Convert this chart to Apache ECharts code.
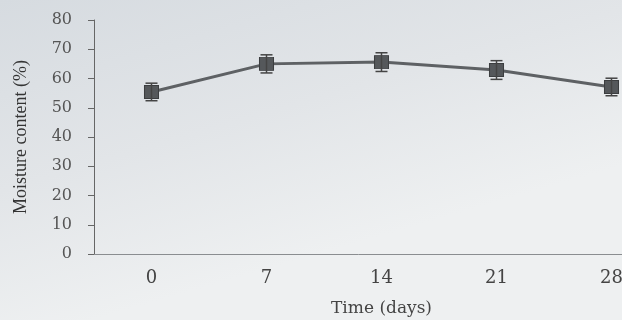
<!DOCTYPE html>
<html>
<head>
<meta charset="utf-8">
<script src="https://cdn.jsdelivr.net/npm/echarts@6/dist/echarts.min.js"></script>
<style>
html,body{margin:0;padding:0;}
#chart{width:622px;height:320px;}
</style>
</head>
<body>
<div id="chart"></div>
<script>
var categories = ['0', '7', '14', '21', '28'];
var moisture = [55.4, 65.0, 65.6, 62.9, 57.1];
var errors = [3.0, 3.1, 3.2, 3.2, 3.0];
var yTicks = [0, 10, 20, 30, 40, 50, 60, 70, 80];

var chart = echarts.init(document.getElementById('chart'));
var serifWide = '"DejaVu Serif", "Liberation Serif", serif';
var serif = '"Liberation Serif", "DejaVu Serif", serif';

var errData = moisture.map(function (v, i) { return [i, v - errors[i], v + errors[i]]; });

chart.setOption({
  animation: false,
  backgroundColor: {
    type: 'linear', x: 0, y: 0, x2: 0.15, y2: 1,
    colorStops: [
      { offset: 0, color: '#d6dbe0' },
      { offset: 0.55, color: '#e2e5e8' },
      { offset: 1, color: '#eef0f1' }
    ]
  },
  grid: { left: 94, top: 20, bottom: 66, width: 575, right: -47, outerBoundsMode: 'none', containLabel: false },
  xAxis: {
    type: 'category',
    data: categories,
    boundaryGap: true,
    name: 'Time (days)',
    nameLocation: 'middle',
    nameGap: 46,
    nameTextStyle: { fontFamily: serifWide, fontSize: 17, color: '#444' },
    axisLine: { lineStyle: { color: '#8a8d90', width: 1 } },
    axisTick: { inside: true, length: 4, lineStyle: { color: '#777' } },
    axisLabel: { margin: 15, fontFamily: serifWide, fontSize: 18, color: '#444' },
    splitLine: { show: false }
  },
  yAxis: {
    type: 'value',
    min: yTicks[0],
    max: yTicks[yTicks.length - 1],
    interval: 10,
    name: 'Moisture content (%)',
    nameLocation: 'middle',
    nameGap: 64,
    nameTextStyle: { fontFamily: serif, fontSize: 18, color: '#333' },
    axisLine: { show: true, lineStyle: { color: '#666', width: 1 } },
    axisTick: { show: true, length: 6, lineStyle: { color: '#666' } },
    axisLabel: { margin: 22, fontFamily: serifWide, fontSize: 16, color: '#555' },
    splitLine: { show: false }
  },
  series: [
    {
      type: 'line',
      data: moisture,
      symbol: 'rect',
      symbolSize: [14, 13],
      lineStyle: { color: '#5e6164', width: 3 },
      itemStyle: { color: '#55585b', borderColor: '#3c3e40', borderWidth: 1 },
      z: 3
    },
    {
      type: 'custom',
      data: errData,
      z: 4,
      renderItem: function (params, api) {
        var x = api.value(0);
        var lo = api.coord([x, api.value(1)]);
        var hi = api.coord([x, api.value(2)]);
        var hw = 6;
        var style = { stroke: '#444', lineWidth: 1.5 };
        return {
          type: 'group',
          children: [
            { type: 'line', shape: { x1: hi[0], y1: hi[1], x2: lo[0], y2: lo[1] }, style: style },
            { type: 'line', shape: { x1: hi[0] - hw, y1: hi[1], x2: hi[0] + hw, y2: hi[1] }, style: style },
            { type: 'line', shape: { x1: lo[0] - hw, y1: lo[1], x2: lo[0] + hw, y2: lo[1] }, style: style }
          ]
        };
      }
    }
  ]
});
</script>
</body>
</html>
